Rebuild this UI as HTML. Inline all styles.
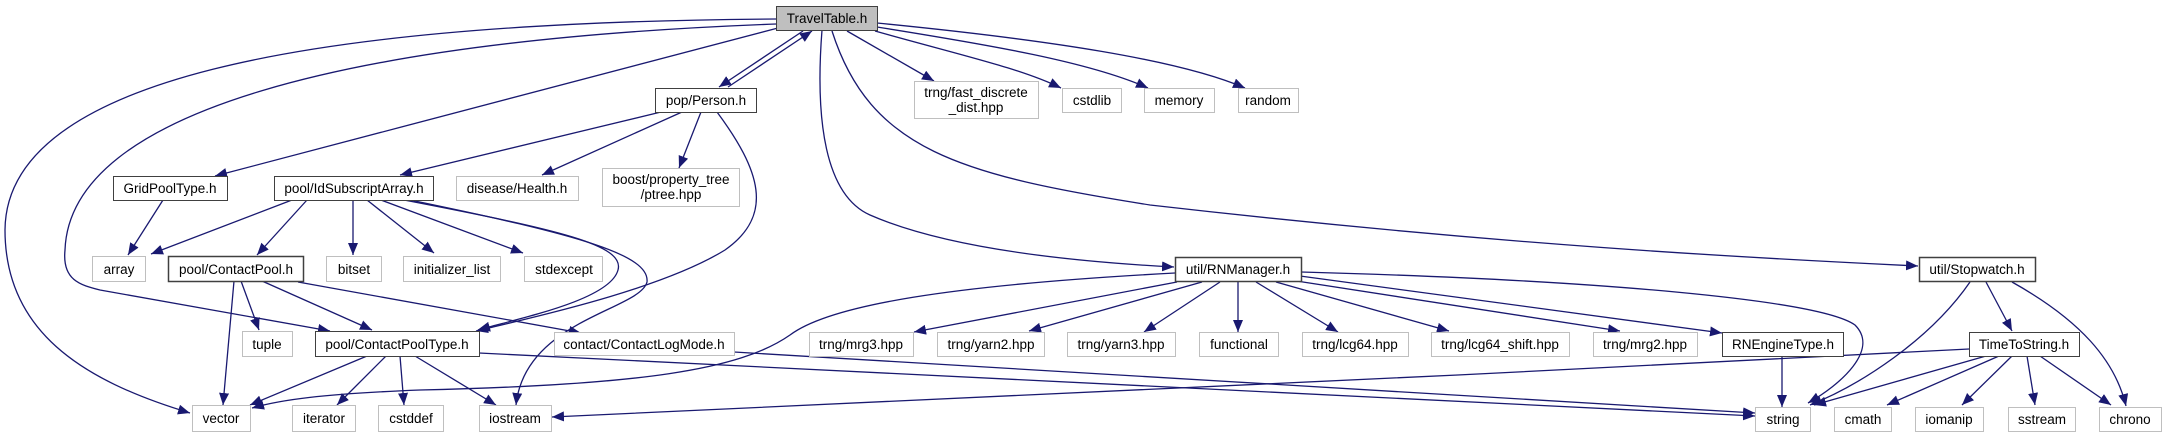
<!DOCTYPE html>
<html><head><meta charset="utf-8"><style>
html,body{margin:0;padding:0;background:#fff;}
svg{display:block;}
text{font-family:"Liberation Sans",Arial,sans-serif;font-size:13.5px;fill:#000;}
</style></head><body>
<svg width="2167" height="437" viewBox="0 0 2167 437" xmlns="http://www.w3.org/2000/svg">
<defs>
<marker id="a" markerUnits="userSpaceOnUse" markerWidth="14" markerHeight="12" refX="12" refY="5" orient="auto">
<path d="M0,0 L12,5 L0,10 z" fill="#191970"/>
</marker>
</defs>
<g fill="none" stroke="#191970" stroke-width="1.3" marker-end="url(#a)">
<path d="M776,19 C 300,22 6,80 5,230 C 5,330 80,380 190,413"/>
<path d="M776,24 C 350,40 70,110 65,250 C 62,280 80,285 100,290 L 330,331"/>
<path d="M778,28 L 215,176"/>
<path d="M803,31 L 719,87"/>
<path d="M728,87 L 812,31"/>
<path d="M822,30 C 815,120 825,195 870,215 C 950,250 1080,262 1174,267"/>
<path d="M832,31 C 870,150 960,175 1150,205 C 1500,245 1750,258 1918,266"/>
<path d="M847,31 L 934,81"/>
<path d="M875,31 C 960,55 1020,68 1061,88"/>
<path d="M877,27 C 990,45 1090,62 1148,88"/>
<path d="M877,23 C 1050,40 1180,60 1245,88"/>
<path d="M661,112 L 400,175"/>
<path d="M682,112 L 542,175"/>
<path d="M701,112 L 679,168"/>
<path d="M717,112 C 760,170 775,215 725,250 C 660,290 530,318 476,331"/>
<path d="M163,200 L 128,255"/>
<path d="M292,200 L 151,254"/>
<path d="M307,200 L 257,255"/>
<path d="M353,200 L 353,255"/>
<path d="M367,200 L 434,253"/>
<path d="M381,200 L 523,253"/>
<path d="M404,200 C 560,230 625,245 618,270 C 610,300 520,318 478,330"/>
<path d="M410,200 C 580,235 650,255 647,282 C 640,310 525,320 516,405"/>
<path d="M234,281 L 223,405"/>
<path d="M241,281 L 259,330"/>
<path d="M262,281 L 372,330"/>
<path d="M298,282 L 581,333"/>
<path d="M367,356 L 250,405"/>
<path d="M386,356 L 337,405"/>
<path d="M400,356 L 404,405"/>
<path d="M415,356 L 496,405"/>
<path d="M479,353 L 1755,416"/>
<path d="M734,352 L 1755,413"/>
<path d="M1175,273 C 950,285 830,305 790,335 C 740,370 640,385 420,390 C 320,394 280,400 252,408"/>
<path d="M1177,282 L 914,332"/>
<path d="M1202,282 L 1029,331"/>
<path d="M1220,282 L 1144,332"/>
<path d="M1238,282 L 1238,332"/>
<path d="M1256,282 L 1338,332"/>
<path d="M1276,282 L 1449,331"/>
<path d="M1290,280 L 1620,331"/>
<path d="M1300,276 L 1722,333"/>
<path d="M1301,272 C 1600,280 1820,300 1855,325 C 1880,350 1840,385 1808,403"/>
<path d="M1782,356 L 1782,407"/>
<path d="M1970,282 C 1930,340 1860,385 1810,405"/>
<path d="M1986,282 L 2012,331"/>
<path d="M2012,282 C 2080,320 2115,360 2126,406"/>
<path d="M1986,356 L 1814,405"/>
<path d="M1999,356 L 1887,405"/>
<path d="M2012,356 L 1962,405"/>
<path d="M2027,356 L 2035,405"/>
<path d="M2040,356 L 2111,405"/>
<path d="M1969,349 C 1500,375 900,400 552,417"/>
</g>
<g stroke-width="1">
<rect x="776.5" y="6.5" width="101" height="24" fill="#bfbfbf" stroke="#404040"/>
<rect x="655.5" y="88.5" width="101" height="24" fill="#fff" stroke="#404040"/>
<rect x="914.5" y="81.5" width="124" height="37" fill="#fff" stroke="#bfbfbf"/>
<rect x="1062.5" y="88.5" width="59" height="24" fill="#fff" stroke="#bfbfbf"/>
<rect x="1144.5" y="88.5" width="70" height="24" fill="#fff" stroke="#bfbfbf"/>
<rect x="1238.5" y="88.5" width="60" height="24" fill="#fff" stroke="#bfbfbf"/>
<rect x="113.5" y="176.5" width="114" height="24" fill="#fff" stroke="#404040"/>
<rect x="274.5" y="176.5" width="159" height="24" fill="#fff" stroke="#404040"/>
<rect x="456.5" y="176.5" width="122" height="24" fill="#fff" stroke="#bfbfbf"/>
<rect x="602.5" y="168.5" width="137" height="38" fill="#fff" stroke="#bfbfbf"/>
<rect x="92.5" y="256.5" width="53" height="25" fill="#fff" stroke="#bfbfbf"/>
<rect x="168.5" y="256.5" width="135" height="25" fill="#fff" stroke="#404040" stroke-width="1.5"/>
<rect x="326.5" y="256.5" width="55" height="25" fill="#fff" stroke="#bfbfbf"/>
<rect x="403.5" y="256.5" width="97" height="25" fill="#fff" stroke="#bfbfbf"/>
<rect x="524.5" y="256.5" width="78" height="25" fill="#fff" stroke="#bfbfbf"/>
<rect x="242.5" y="331.5" width="50" height="25" fill="#fff" stroke="#bfbfbf"/>
<rect x="315.5" y="331.5" width="164" height="25" fill="#fff" stroke="#404040"/>
<rect x="554.5" y="332.5" width="180" height="23" fill="#fff" stroke="#bfbfbf"/>
<rect x="809.5" y="332.5" width="104" height="24" fill="#fff" stroke="#bfbfbf"/>
<rect x="937.5" y="332.5" width="107" height="24" fill="#fff" stroke="#bfbfbf"/>
<rect x="1067.5" y="332.5" width="108" height="24" fill="#fff" stroke="#bfbfbf"/>
<rect x="1199.5" y="332.5" width="79" height="24" fill="#fff" stroke="#bfbfbf"/>
<rect x="1302.5" y="332.5" width="106" height="24" fill="#fff" stroke="#bfbfbf"/>
<rect x="1431.5" y="332.5" width="138" height="24" fill="#fff" stroke="#bfbfbf"/>
<rect x="1593.5" y="332.5" width="104" height="24" fill="#fff" stroke="#bfbfbf"/>
<rect x="1722.5" y="332.5" width="121" height="24" fill="#fff" stroke="#404040"/>
<rect x="1175.5" y="257.5" width="126" height="24" fill="#fff" stroke="#404040" stroke-width="1.5"/>
<rect x="1919.5" y="257.5" width="116" height="24" fill="#fff" stroke="#404040" stroke-width="1.5"/>
<rect x="1969.5" y="332.5" width="110" height="24" fill="#fff" stroke="#404040"/>
<rect x="192.5" y="405.5" width="58" height="26" fill="#fff" stroke="#bfbfbf"/>
<rect x="292.5" y="405.5" width="63" height="26" fill="#fff" stroke="#bfbfbf"/>
<rect x="378.5" y="405.5" width="65" height="26" fill="#fff" stroke="#bfbfbf"/>
<rect x="479.5" y="405.5" width="72" height="26" fill="#fff" stroke="#bfbfbf"/>
<rect x="1755.5" y="407.5" width="55" height="24" fill="#fff" stroke="#bfbfbf"/>
<rect x="1834.5" y="407.5" width="57" height="24" fill="#fff" stroke="#bfbfbf"/>
<rect x="1915.5" y="407.5" width="68" height="24" fill="#fff" stroke="#bfbfbf"/>
<rect x="2008.5" y="407.5" width="67" height="24" fill="#fff" stroke="#bfbfbf"/>
<rect x="2099.5" y="407.5" width="62" height="24" fill="#fff" stroke="#bfbfbf"/>
</g>
<g text-anchor="middle">
<text x="827" y="23">TravelTable.h</text>
<text x="706" y="105">pop/Person.h</text>
<text x="976" y="97">trng/fast_discrete</text>
<text x="976" y="112">_dist.hpp</text>
<text x="1092" y="105">cstdlib</text>
<text x="1179" y="105">memory</text>
<text x="1268" y="105">random</text>
<text x="170" y="193">GridPoolType.h</text>
<text x="354" y="193">pool/IdSubscriptArray.h</text>
<text x="517" y="193">disease/Health.h</text>
<text x="671" y="184">boost/property_tree</text>
<text x="671" y="199">/ptree.hpp</text>
<text x="119" y="274">array</text>
<text x="236" y="274">pool/ContactPool.h</text>
<text x="354" y="274">bitset</text>
<text x="452" y="274">initializer_list</text>
<text x="564" y="274">stdexcept</text>
<text x="267" y="349">tuple</text>
<text x="397" y="349">pool/ContactPoolType.h</text>
<text x="644" y="349">contact/ContactLogMode.h</text>
<text x="861" y="349">trng/mrg3.hpp</text>
<text x="991" y="349">trng/yarn2.hpp</text>
<text x="1121" y="349">trng/yarn3.hpp</text>
<text x="1239" y="349">functional</text>
<text x="1355" y="349">trng/lcg64.hpp</text>
<text x="1500" y="349">trng/lcg64_shift.hpp</text>
<text x="1645" y="349">trng/mrg2.hpp</text>
<text x="1783" y="349">RNEngineType.h</text>
<text x="1238" y="274">util/RNManager.h</text>
<text x="1977" y="274">util/Stopwatch.h</text>
<text x="2024" y="349">TimeToString.h</text>
<text x="221" y="423">vector</text>
<text x="324" y="423">iterator</text>
<text x="411" y="423">cstddef</text>
<text x="515" y="423">iostream</text>
<text x="1783" y="424">string</text>
<text x="1863" y="424">cmath</text>
<text x="1949" y="424">iomanip</text>
<text x="2042" y="424">sstream</text>
<text x="2130" y="424">chrono</text>
</g>
</svg>
</body></html>
